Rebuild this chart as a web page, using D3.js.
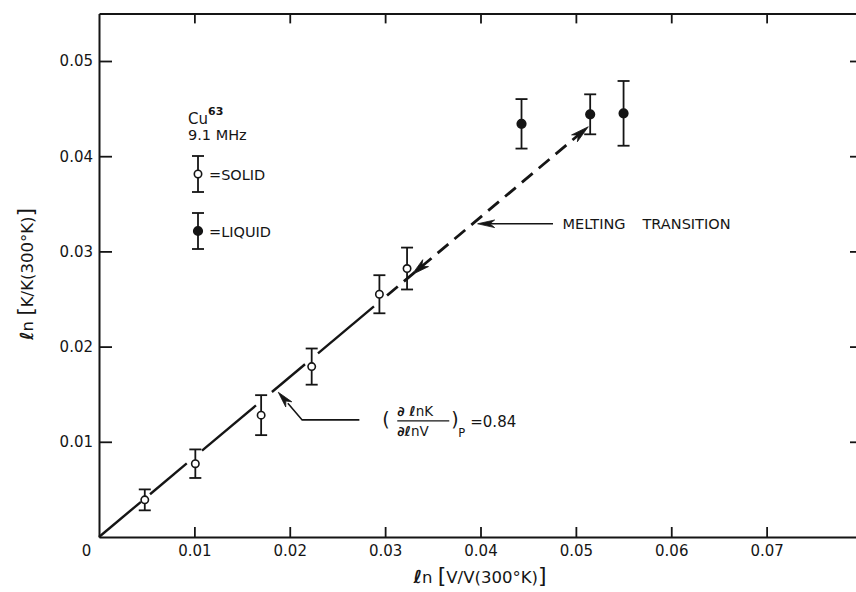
<!DOCTYPE html>
<html>
<head>
<meta charset="utf-8">
<script src="https://cdn.jsdelivr.net/npm/d3@7"></script>
<style>
  body { margin: 0; background: #fff; }
  svg { display: block; font-family: "DejaVu Sans", sans-serif; }
</style>
</head>
<body>
<svg id="chart" width="856" height="592"></svg>
<script>
// --- data ---
var solidX   = [0.0048, 0.0101, 0.0170, 0.0223, 0.0294, 0.0323]
var solidY   = [0.0039, 0.0077, 0.0128, 0.0179, 0.0255, 0.0282]
var solidErr = [0.0011, 0.0015, 0.0021, 0.0019, 0.0020, 0.0022]

var liquidX   = [0.0443, 0.0515, 0.0550]
var liquidY   = [0.0434, 0.0444, 0.0445]
var liquidErr = [0.0026, 0.0021, 0.0034]

var slope = 0.84
// solid fit line is drawn in broken pieces (x ranges)
var fitPieces = [[0, 0.0044], [0.00535, 0.0092], [0.0108, 0.01646], [0.01813, 0.0216], [0.02296, 0.02883]]
var dashedRange = [0.0302, 0.0513]

var xTicks = [0, 0.01, 0.02, 0.03, 0.04, 0.05, 0.06, 0.07]
var yTicks = [0.01, 0.02, 0.03, 0.04, 0.05]

// --- setup ---
var svg = d3.select("#chart")
var ink = "#151515"
var fontsize = 15

var x = d3.scaleLinear().domain([0, 0.08]).range([99, 862])
var y = d3.scaleLinear().domain([0, 0.055]).range([537, 13.4])

function styleAxis(g) {
  g.attr("font-family", "DejaVu Sans, sans-serif").attr("font-size", fontsize)
  g.select(".domain").attr("stroke", ink).attr("stroke-width", 2)
  g.selectAll(".tick line").attr("stroke", ink).attr("stroke-width", 1.8)
  g.selectAll(".tick text").attr("fill", ink)
}

// bottom axis
var gx = svg.append("g").attr("transform", "translate(0," + y(0) + ")")
  .call(d3.axisBottom(x).tickValues(xTicks).tickSizeInner(-10).tickSizeOuter(0).tickPadding(8)
    .tickFormat(function(d) { return d === 0 ? "0" : d3.format(".2f")(d) }))
styleAxis(gx)
gx.selectAll(".tick").filter(function(d) { return d === 0 }).select("line").remove()
gx.selectAll(".tick").filter(function(d) { return d === 0 }).select("text").attr("x", -13)

// top axis (ticks only)
var gt = svg.append("g").attr("transform", "translate(0," + y(0.055) + ")")
  .call(d3.axisTop(x).tickValues(xTicks.slice(1)).tickSizeInner(-10).tickSizeOuter(0).tickFormat(""))
styleAxis(gt)

// left axis
var gy = svg.append("g").attr("transform", "translate(" + x(0) + ",0)")
  .call(d3.axisLeft(y).tickValues(yTicks).tickSizeInner(-13).tickSizeOuter(0).tickPadding(6)
    .tickFormat(d3.format(".2f")))
styleAxis(gy)

// right axis (mostly outside the picture)
var gr = svg.append("g").attr("transform", "translate(" + x(0.08) + ",0)")
  .call(d3.axisRight(y).tickValues(yTicks).tickSizeInner(-12).tickSizeOuter(0).tickFormat(""))
styleAxis(gr)

// --- fit line ---
var fitLine = d3.line().x(function(d) { return x(d) }).y(function(d) { return y(slope * d) })

svg.append("g").selectAll("path").data(fitPieces).enter().append("path")
  .attr("d", function(d) { return fitLine(d) })
  .attr("stroke", ink).attr("stroke-width", 2.4).attr("fill", "none")

svg.append("path")
  .attr("d", fitLine(dashedRange))
  .attr("stroke", ink).attr("stroke-width", 2.8).attr("fill", "none")
  .attr("stroke-dasharray", "14,8")

// arrowhead: tip at (tx,ty), pointing in direction (ux,uy)
function arrowHead(tx, ty, ux, uy, len, hw) {
  var n = Math.sqrt(ux * ux + uy * uy); ux /= n; uy /= n
  var px = -uy, py = ux
  var pts = [
    [tx, ty],
    [tx - ux * len + px * hw, ty - uy * len + py * hw],
    [tx - ux * len * 0.72, ty - uy * len * 0.72],
    [tx - ux * len - px * hw, ty - uy * len - py * hw]
  ]
  svg.append("path").attr("d", "M" + pts.join("L") + "Z").attr("fill", ink).attr("stroke", ink).attr("stroke-width", 0.8)
}

var dirX = x(0.01) - x(0), dirY = y(slope * 0.01) - y(0)
arrowHead(x(dashedRange[1]), y(slope * dashedRange[1]), dirX, dirY, 18, 4.5)
arrowHead(x(0.0328), y(slope * 0.0328), -dirX, -dirY, 18, 4.5)

// --- error bars & points ---
function drawSeries(xs, ys, es, filled) {
  var g = svg.append("g")
  xs.forEach(function(xv, i) {
    var cx = x(xv), top = y(ys[i] + es[i]), bot = y(ys[i] - es[i])
    g.append("line").attr("x1", cx).attr("x2", cx).attr("y1", top).attr("y2", bot)
      .attr("stroke", ink).attr("stroke-width", 1.8)
    ;[top, bot].forEach(function(yy) {
      g.append("line").attr("x1", cx - 6).attr("x2", cx + 6).attr("y1", yy).attr("y2", yy)
        .attr("stroke", ink).attr("stroke-width", 1.8)
    })
    g.append("circle").attr("cx", cx).attr("cy", y(ys[i]))
      .attr("r", filled ? 4.3 : 3.7)
      .attr("fill", filled ? ink : "#fff").attr("stroke", ink).attr("stroke-width", 1.6)
  })
}
drawSeries(solidX, solidY, solidErr, false)
drawSeries(liquidX, liquidY, liquidErr, true)

// --- legend ---
var lg = svg.append("g").attr("fill", ink)
lg.append("text").attr("x", 188).attr("y", 124).attr("font-size", 15)
  .text("Cu").append("tspan").attr("dy", -9).attr("font-size", 11).attr("font-weight", "bold").text("63")
lg.append("text").attr("x", 188).attr("y", 140).attr("font-size", 14.5).text("9.1 MHz")

function legendMark(cy, filled, label) {
  var cx = 198
  lg.append("line").attr("x1", cx).attr("x2", cx).attr("y1", cy - 18).attr("y2", cy + 18).attr("stroke", ink).attr("stroke-width", 1.8)
  ;[cy - 18, cy + 18].forEach(function(yy) {
    lg.append("line").attr("x1", cx - 6).attr("x2", cx + 6).attr("y1", yy).attr("y2", yy).attr("stroke", ink).attr("stroke-width", 1.8)
  })
  lg.append("circle").attr("cx", cx).attr("cy", cy).attr("r", filled ? 4.3 : 3.7)
    .attr("fill", filled ? ink : "#fff").attr("stroke", ink).attr("stroke-width", 1.6)
  lg.append("text").attr("x", 209).attr("y", cy + 5.5).attr("font-size", 14.5).text(label)
}
legendMark(174, false, "=SOLID")
legendMark(231, true, "=LIQUID")

// --- melting transition annotation ---
var mY = y(0.0329)
var mTip = x(0.0397)
svg.append("line").attr("x1", mTip + 12).attr("x2", x(0.0476)).attr("y1", mY).attr("y2", mY)
  .attr("stroke", ink).attr("stroke-width", 1.6)
arrowHead(mTip, mY, -1, 0, 17, 3.8)
svg.append("text").attr("x", x(0.0486)).attr("y", mY + 5.5).attr("font-size", 14.5).attr("fill", ink).text("MELTING")
svg.append("text").attr("x", x(0.0486) + 80).attr("y", mY + 5.5).attr("font-size", 14.5).attr("fill", ink).text("TRANSITION")

// --- slope annotation ---
var aTipX = x(0.0188), aTipY = y(0.0152)
var elbowX = x(0.0213), elbowY = y(0.0123)
svg.append("path")
  .attr("d", "M" + x(0.0273) + "," + elbowY + "L" + elbowX + "," + elbowY + "L" + (aTipX + (elbowX - aTipX) * 0.4) + "," + (aTipY + (elbowY - aTipY) * 0.4))
  .attr("stroke", ink).attr("stroke-width", 1.6).attr("fill", "none")
arrowHead(aTipX, aTipY, aTipX - elbowX, aTipY - elbowY, 16, 4)

var fx = x(0.0297)
var ann = svg.append("g").attr("fill", ink)
ann.append("text").attr("x", fx).attr("y", elbowY + 6).attr("font-size", 19).text("(")
var num = ann.append("text").attr("x", fx + 15).attr("y", elbowY - 3.5).attr("font-size", 13.5)
num.append("tspan").attr("font-weight", "bold").attr("font-style", "italic").text("\u2202 \u2113")
num.append("tspan").text("nK")
ann.append("line").attr("x1", fx + 15).attr("x2", fx + 67).attr("y1", elbowY + 1).attr("y2", elbowY + 1)
  .attr("stroke", ink).attr("stroke-width", 1.3)
var den = ann.append("text").attr("x", fx + 15).attr("y", elbowY + 16).attr("font-size", 13.5)
den.append("tspan").attr("font-weight", "bold").attr("font-style", "italic").text("\u2202\u2113")
den.append("tspan").text("nV")
ann.append("text").attr("x", fx + 69).attr("y", elbowY + 6).attr("font-size", 19).text(")")
ann.append("text").attr("x", fx + 76).attr("y", elbowY + 17).attr("font-size", 11.5).text("P")
ann.append("text").attr("x", fx + 88).attr("y", elbowY + 7).attr("font-size", 15).text("=0.84")

// --- axis titles ---
var xt = svg.append("text").attr("x", 480).attr("y", 583).attr("text-anchor", "middle")
  .attr("font-size", 16.5).attr("fill", ink)
xt.append("tspan").attr("font-weight", "bold").attr("font-style", "italic").attr("font-size", 18).text("\u2113")
xt.append("tspan").text("n ")
xt.append("tspan").attr("font-size", 22).text("[")
xt.append("tspan").text("V/V(300\u00b0K)")
xt.append("tspan").attr("font-size", 22).text("]")

var yt = svg.append("text").attr("transform", "translate(33,274) rotate(-90)").attr("text-anchor", "middle")
  .attr("font-size", 16.5).attr("fill", ink)
yt.append("tspan").attr("font-weight", "bold").attr("font-style", "italic").attr("font-size", 18).text("\u2113")
yt.append("tspan").text("n ")
yt.append("tspan").attr("font-size", 22).text("[")
yt.append("tspan").text("K/K(300\u00b0K)")
yt.append("tspan").attr("font-size", 22).text("]")
</script>
</body>
</html>
